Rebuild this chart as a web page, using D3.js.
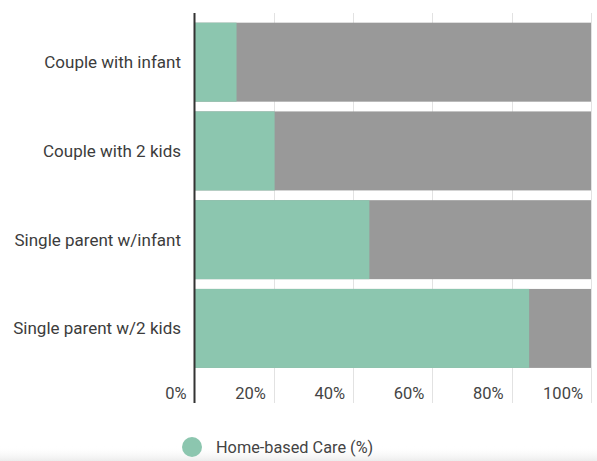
<!DOCTYPE html>
<html>
<head>
<meta charset="utf-8">
<script src="https://cdn.jsdelivr.net/npm/d3@7"></script>
<style>
  html, body { margin: 0; padding: 0; background: #ffffff; }
  svg { display: block; font-family: Roboto, "Noto Sans", sans-serif; }
</style>
</head>
<body>
<svg id="chart" width="597" height="461"></svg>
<script>
// Household types and share of home-based care (%)
const categories = ["Couple with infant", "Couple with 2 kids", "Single parent w/infant", "Single parent w/2 kids"];
const homeCare = [10.6, 20.2, 44.1, 84.4];
const tickValues = [0, 20, 40, 60, 80, 100];
const legendLabel = "Home-based Care (%)";

const W = 597, H = 461;
const svg = d3.select("#chart");

const x = d3.scaleLinear().domain([0, 100]).range([194.5, 591]);
const y = d3.scaleBand().domain(categories).range([17.8, 372.8])
  .paddingInner(0.11).paddingOuter(0.055);

const gridTop = 13, gridBottom = 403;

// faint shading along the bottom edge
const defs = svg.append("defs");
const grad = defs.append("linearGradient").attr("id", "bottomShade")
  .attr("x1", 0).attr("y1", 0).attr("x2", 0).attr("y2", 1);
grad.append("stop").attr("offset", "0%").attr("stop-color", "#ffffff").attr("stop-opacity", 0);
grad.append("stop").attr("offset", "100%").attr("stop-color", "#ececec").attr("stop-opacity", 1);
svg.append("rect").attr("x", 0).attr("y", 446).attr("width", W).attr("height", H - 446)
  .attr("fill", "url(#bottomShade)");

// vertical gridlines
svg.append("g").selectAll("line").data(tickValues.slice(1)).join("line")
  .attr("x1", d => Math.round(x(d)) + 0.5).attr("x2", d => Math.round(x(d)) + 0.5)
  .attr("y1", gridTop).attr("y2", gridBottom)
  .attr("stroke", "#e2e2e2").attr("stroke-width", 1);

// stacked bars: remainder in grey, home-based share in green
const rows = svg.append("g").selectAll("g").data(categories).join("g");
rows.append("rect")
  .attr("x", x(0)).attr("y", d => y(d))
  .attr("width", x(100) - x(0)).attr("height", y.bandwidth())
  .attr("fill", "#999999");
rows.append("rect")
  .attr("x", x(0)).attr("y", d => y(d))
  .attr("width", (d, i) => x(homeCare[i]) - x(0)).attr("height", y.bandwidth())
  .attr("fill", "#8cc6af");

// category labels
svg.append("g").selectAll("text").data(categories).join("text")
  .attr("x", 181).attr("y", d => y(d) + y.bandwidth() / 2)
  .attr("text-anchor", "end").attr("dominant-baseline", "central")
  .attr("font-size", 17).attr("fill", "#3c3c3c")
  .text(d => d);

// value axis tick labels, right-aligned left of each gridline
svg.append("g").selectAll("text").data(tickValues).join("text")
  .attr("x", d => x(d) - 8).attr("y", 393)
  .attr("text-anchor", "end").attr("dominant-baseline", "central")
  .attr("font-size", 16.5).attr("fill", "#444444")
  .text(d => d + "%");

// baseline axis
svg.append("line")
  .attr("x1", x(0)).attr("x2", x(0)).attr("y1", gridTop).attr("y2", gridBottom)
  .attr("stroke", "#333333").attr("stroke-width", 2);

// legend
const legend = svg.append("g");
legend.append("circle").attr("cx", 192).attr("cy", 447).attr("r", 10).attr("fill", "#8cc6af");
legend.append("text").attr("x", 216).attr("y", 447)
  .attr("dominant-baseline", "central").attr("font-size", 16.3).attr("fill", "#444444")
  .text(legendLabel);
</script>
</body>
</html>
